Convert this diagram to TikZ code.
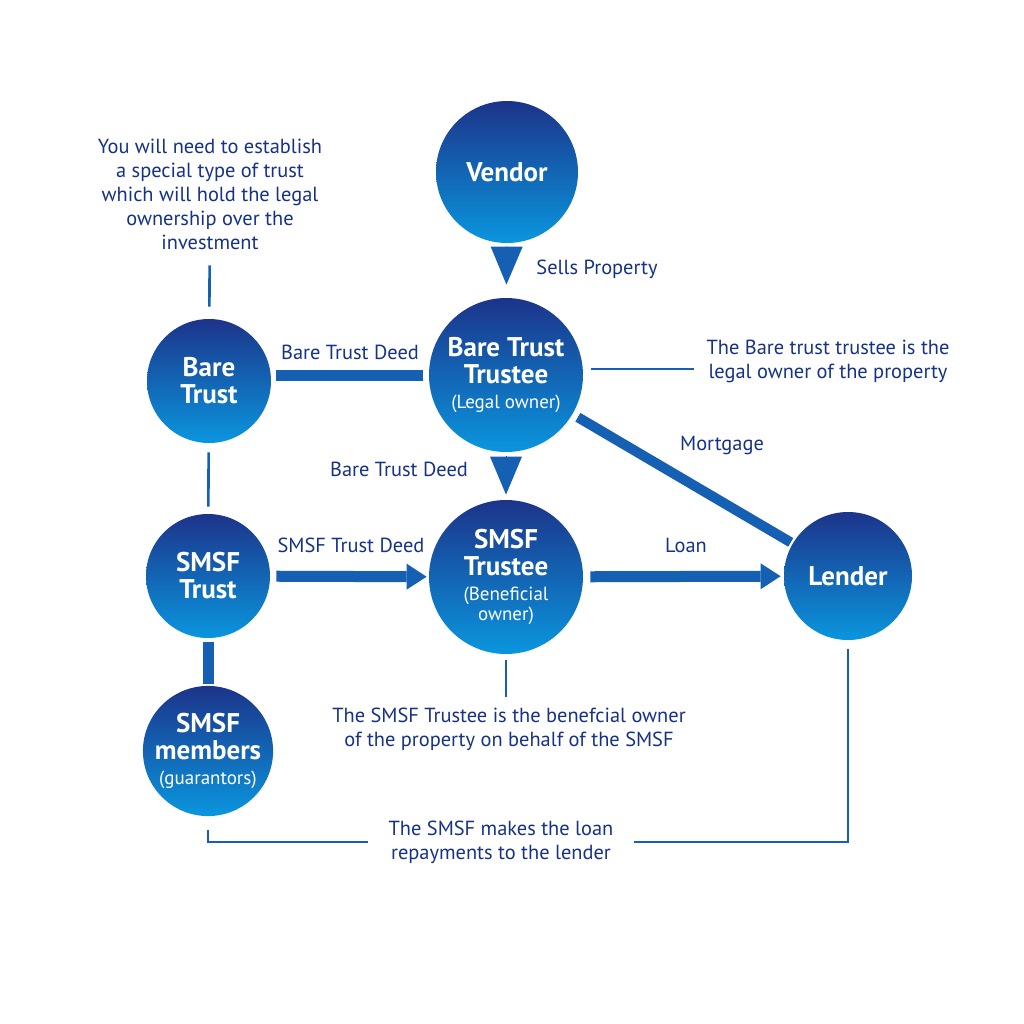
\documentclass[tikz,border=0pt]{standalone}
\usepackage{fontspec}
\setmainfont{PT Sans}
\usepackage{tikz}
\usetikzlibrary{arrows.meta, positioning, calc}
\definecolor{circtop}{RGB}{28,52,138}
\definecolor{circmid}{RGB}{12,92,178}
\definecolor{circbot}{RGB}{10,150,222}
\definecolor{navy}{RGB}{22,50,135}
\definecolor{linkblue}{RGB}{22,96,180}
\newcommand{\ownerlbl}[1]{{\fontsize{9.5}{10.5}\selectfont\mdseries #1}}
\tikzset{
	party/.style={circle, top color=circtop, middle color=circmid, bottom color=circbot,
		draw=none, inner sep=0pt, align=center, text=white,
		font=\fontsize{13.5}{13.5}\selectfont\bfseries},
	bigparty/.style={party, minimum size=77pt},
	smallparty/.style={party, minimum size=62pt},
	note/.style={align=center, text=navy, font=\fontsize{10.2}{12}\selectfont},
	linklabel/.style={text=navy, font=\fontsize{10.2}{12}\selectfont},
	thinline/.style={draw=linkblue, line width=1.3pt},
	bar/.style={draw=linkblue, line width=5.5pt},
	bararrow/.style={bar, -{Triangle[width=13pt, length=10pt, line width=0pt]}},
	pointer/.style={draw=linkblue, line width=0.4pt, -{Triangle[width=16pt, length=19pt, line width=0pt]}}
}

\begin{document}
\begin{tikzpicture}[x=0.5pt, y=-0.5pt]
	\fill[white] (0,0) rectangle (1024,1024);
	
	% Parties
	\node[party, minimum size=71pt] (vendor) at (507,172) {Vendor};
	\node[bigparty] (btt) at (506,375) {Bare Trust\\Trustee\\[-1pt]\ownerlbl{(Legal owner)}};
	\node[smallparty] (bt) at (209,381) {Bare\\Trust};
	\node[smallparty] (st) at (208,576) {SMSF\\Trust};
	\node[bigparty] (stt) at (506,577) {SMSF\\Trustee\\[-1pt]\ownerlbl{(Beneficial}\\[-3.5pt]\ownerlbl{owner)}};
	\node[smallparty] (smem) at (208,751) {SMSF\\members\\[-1pt]\ownerlbl{(guarantors)}};
	\node[party, minimum size=64pt] (lender) at (848,576) {Lender};
	
	% Notes
	\node[note] (estab) at (210,194) {You will need to establish\\a special type of trust\\which will hold the legal\\ownership over the\\investment};
	\node[note] (btnote) at (828,361) {The Bare trust trustee is the\\legal owner of the property};
	\node[note] (stnote) at (509,729) {The SMSF Trustee is the benefcial owner\\of the property on behalf of the SMSF};
	\node[note, inner xsep=10pt] (repay) at (501,842) {The SMSF makes the loan\\repayments to the lender};
	
	% Link labels
	\node[linklabel] (sells) at (597,269) {Sells Property};
	\node[linklabel] (deedA) at (350,352) {Bare Trust Deed};
	\node[linklabel] (deedB) at (399,469) {Bare Trust Deed};
	\node[linklabel] (smsfdeed) at (351,545) {SMSF Trust Deed};
	\node[linklabel] (loan) at (686,545) {Loan};
	\node[linklabel] (mortgage) at (722,446) {Mortgage};
	
	% Connections
	\draw[pointer, shorten <=2pt, shorten >=6.5pt] (vendor) -- (btt);
	\draw[pointer, shorten <=2pt, shorten >=2.5pt] (btt) -- (stt);
	\draw[bar, shorten <=2.5pt, shorten >=3pt] (bt.east |- btt.west) -- (btt.west);
	\draw[bararrow, shorten <=3pt, shorten >=1pt] (st) -- (stt);
	\draw[bararrow, shorten <=3.5pt, shorten >=1.5pt] (stt) -- (lender);
	\draw[bar, line width=5pt, shorten <=3pt, shorten >=1pt] (btt) -- (lender);
	\draw[bar, shorten <=2pt, shorten >=1pt] (st) -- (smem);
	\draw[thinline, shorten <=4.5pt, shorten >=6pt] (estab) -- (bt);
	\draw[thinline, shorten <=4.5pt, shorten >=3.5pt] (bt) -- (st);
	\draw[thinline, shorten <=4pt, shorten >=2.5pt] ([yshift=3pt]btt.east) -- ([yshift=3pt]btt.east -| btnote.west);
	\draw[thinline, shorten <=3pt, shorten >=2pt] (stt.south) -- (stt.south |- stnote.north);
	\draw[thinline, line width=1pt, shorten <=7pt] (smem.south) |- (repay.west);
	\draw[thinline, line width=1pt, shorten <=4.5pt] (lender.south) |- (repay.east);
\end{tikzpicture}
\end{document}
